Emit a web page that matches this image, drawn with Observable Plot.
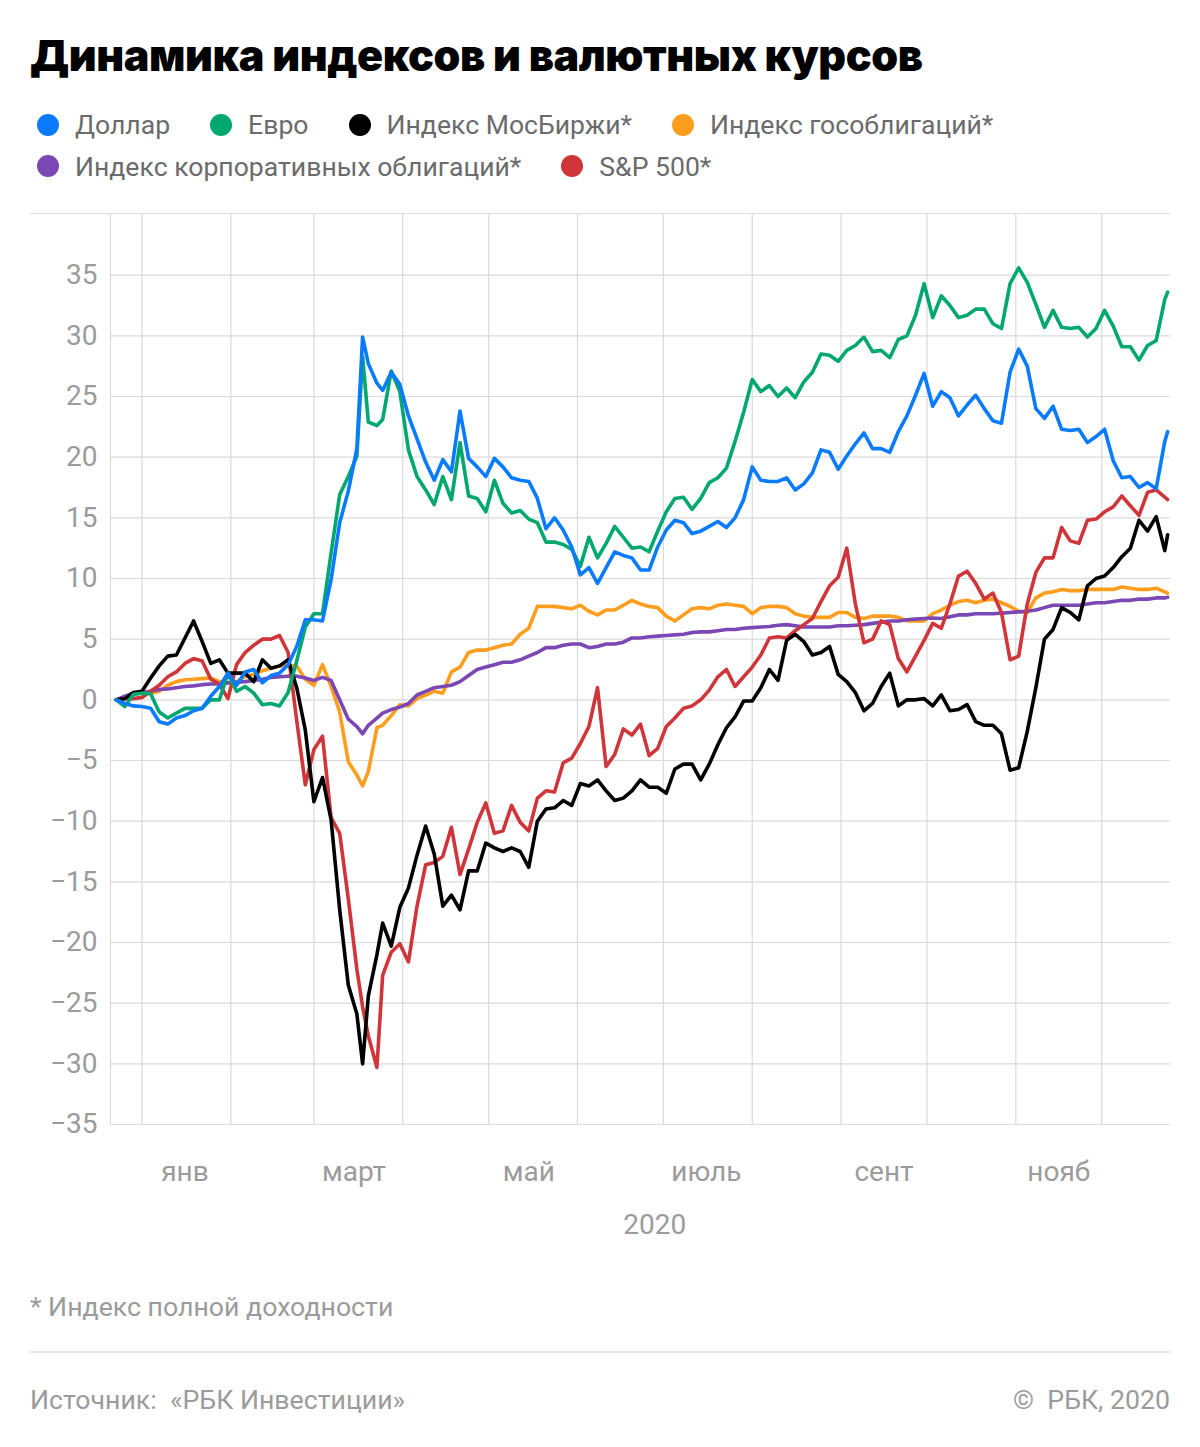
<!DOCTYPE html>
<html lang="ru">
<head>
<meta charset="utf-8">
<script src="https://cdn.jsdelivr.net/npm/d3@7"></script>
<script src="https://cdn.jsdelivr.net/npm/@observablehq/plot@0.6"></script>
<style>
  html, body { margin: 0; padding: 0; background: #fff; }
  body { width: 1200px; height: 1447px; position: relative; font-family: Roboto, "Noto Sans", sans-serif; overflow: hidden; }
  #title { position: absolute; left: 30px; top: 34px; font-family: Inter, Roboto, sans-serif; font-weight: 900; font-size: 43px; line-height: 43px; color: #000; letter-spacing: -0.4px; white-space: nowrap; }
  #legend { position: absolute; left: 37px; top: 104px; width: 1133px; display: flex; flex-wrap: wrap; font-size: 26.6px; line-height: 41.5px; color: #6b6b6b; }
  .item { display: inline-flex; align-items: center; margin-right: 40px; white-space: nowrap; }
  .dot { width: 22px; height: 22px; border-radius: 50%; margin-right: 16px; flex: none; }
  .sep { position: absolute; left: 30px; width: 1140px; background: #dedede; }
  #chart { position: absolute; left: 30px; top: 214px; }
  #note { position: absolute; left: 30px; top: 1292px; font-size: 26.7px; line-height: 30px; color: #9b9b9b; }
  #source { position: absolute; left: 30px; top: 1385px; font-size: 26.7px; line-height: 30px; color: #9b9b9b; white-space: pre; }
  #copy { position: absolute; right: 30px; top: 1385px; font-size: 26.7px; line-height: 30px; color: #9b9b9b; white-space: pre; }
</style>
</head>
<body>
<div id="title">Динамика индексов и валютных курсов</div>
<div id="legend"></div>
<div class="sep" style="top:213px;height:1px;"></div>
<div id="chart"></div>
<div id="note">* Индекс полной доходности</div>
<div class="sep" style="top:1351px;height:2px;background:#e6e6e6;"></div>
<div id="source">Источник:  «РБК Инвестиции»</div>
<div id="copy">©  РБК, 2020</div>
<script>
const dates = [
"2019-12-23","2019-12-26","2019-12-29",
"2020-01-01","2020-01-04","2020-01-07","2020-01-10","2020-01-13","2020-01-16","2020-01-19","2020-01-22","2020-01-25","2020-01-28","2020-01-31",
"2020-02-03","2020-02-06","2020-02-09","2020-02-12","2020-02-15","2020-02-18","2020-02-21","2020-02-24","2020-02-27",
"2020-03-01","2020-03-04","2020-03-07","2020-03-10","2020-03-13","2020-03-16","2020-03-18","2020-03-20","2020-03-23","2020-03-25","2020-03-28","2020-03-31",
"2020-04-03","2020-04-06","2020-04-09","2020-04-12","2020-04-15","2020-04-18","2020-04-21","2020-04-24","2020-04-27","2020-04-30",
"2020-05-03","2020-05-06","2020-05-09","2020-05-12","2020-05-15","2020-05-18","2020-05-21","2020-05-24","2020-05-27","2020-05-30",
"2020-06-02","2020-06-05","2020-06-08","2020-06-11","2020-06-14","2020-06-17","2020-06-20","2020-06-23","2020-06-26","2020-06-29",
"2020-07-02","2020-07-05","2020-07-08","2020-07-11","2020-07-14","2020-07-17","2020-07-20","2020-07-23","2020-07-26","2020-07-29",
"2020-08-01","2020-08-04","2020-08-07","2020-08-10","2020-08-13","2020-08-16","2020-08-19","2020-08-22","2020-08-25","2020-08-28","2020-08-31",
"2020-09-03","2020-09-06","2020-09-09","2020-09-12","2020-09-15","2020-09-18","2020-09-21","2020-09-24","2020-09-27","2020-09-30",
"2020-10-03","2020-10-06","2020-10-09","2020-10-12","2020-10-15","2020-10-18","2020-10-21","2020-10-24","2020-10-27","2020-10-30",
"2020-11-02","2020-11-05","2020-11-08","2020-11-11","2020-11-14","2020-11-17","2020-11-20","2020-11-23","2020-11-26","2020-11-29",
"2020-12-02","2020-12-05","2020-12-08","2020-12-11","2020-12-14","2020-12-17","2020-12-20","2020-12-23","2020-12-24"
];

const dollar = [
0, -0.3, -0.5,
-0.55, -0.7, -1.8, -2.0, -1.5, -1.3, -0.9, -0.7, 0.3, 1.1, 2.2,
1.2, 2.3, 2.5, 1.4, 2.0, 2.2, 2.9, 4.4, 6.6,
6.6, 6.5, 9.9, 14.6, 17.2, 20.7, 29.9, 27.7, 26.1, 25.5, 27.0, 26.0,
23.4, 21.5, 19.6, 18.1, 19.8, 18.8, 23.8, 19.9, 19.2, 18.4,
19.9, 19.2, 18.3, 18.1, 18.0, 16.6, 14.1, 15.0, 14.0, 12.6,
10.3, 10.9, 9.6, 10.9, 12.2, 11.9, 11.7, 10.7, 10.7, 12.6,
14.0, 14.8, 14.6, 13.7, 13.9, 14.3, 14.7, 14.2, 15.0, 16.5,
19.2, 18.1, 18.0, 18.0, 18.3, 17.3, 17.8, 18.7, 20.6, 20.4, 19.0,
20.1, 21.1, 22.0, 20.7, 20.7, 20.4, 22.1, 23.4, 25.1, 26.9,
24.2, 25.4, 24.9, 23.4, 24.3, 25.1, 24.0, 23.0, 22.8, 27.0,
28.9, 27.5, 24.0, 23.2, 24.2, 22.3, 22.2, 22.3, 21.2, 21.7,
22.3, 19.7, 18.3, 18.4, 17.5, 17.9, 17.4, 21.3, 22.1
];

const euro = [
0, -0.55, 0.45,
0.55, 0.5, -1.0, -1.5, -1.1, -0.7, -0.7, -0.7, 0, 0, 2.2,
0.7, 1.1, 0.55, -0.4, -0.3, -0.5, 0.6, 3.2, 6.0,
7.1, 7.1, 12.1, 16.9, 18.4, 20.1, 28.3, 22.9, 22.6, 23.1, 27.1, 25.4,
20.6, 18.4, 17.3, 16.1, 18.4, 16.5, 21.2, 16.8, 16.6, 15.5,
18.1, 16.2, 15.4, 15.6, 14.9, 14.6, 13.0, 13.0, 12.8, 12.4,
11.0, 13.4, 11.7, 12.9, 14.3, 13.4, 12.5, 12.6, 12.2, 13.9,
15.5, 16.6, 16.7, 15.7, 16.6, 17.9, 18.3, 19.1, 21.3, 23.7,
26.4, 25.4, 25.9, 25.0, 25.7, 24.9, 26.2, 27.0, 28.5, 28.4, 27.9,
28.8, 29.2, 29.9, 28.7, 28.8, 28.2, 29.7, 30.0, 31.7, 34.3,
31.5, 33.3, 32.5, 31.5, 31.7, 32.2, 32.2, 31.0, 30.6, 34.3,
35.6, 34.4, 32.6, 30.7, 32.1, 30.7, 30.6, 30.7, 29.9, 30.6,
32.1, 30.8, 29.1, 29.1, 28.0, 29.2, 29.6, 33.0, 33.6
];

const moex = [
0, 0.1, 0.6,
0.7, 1.8, 2.8, 3.6, 3.7, 5.1, 6.5, 4.8, 3.0, 3.3, 2.2,
2.2, 2.2, 1.5, 3.3, 2.6, 2.8, 3.3, 1.0, -2.5,
-8.4, -6.4, -9.9, -17.3, -23.5, -25.9, -30.0, -24.4, -21.0, -18.4, -20.3, -17.1,
-15.5, -12.8, -10.4, -12.7, -17.0, -16.1, -17.3, -14.1, -14.1, -11.8,
-12.2, -12.5, -12.2, -12.5, -13.8, -10.0, -9.0, -8.9, -8.3, -8.7,
-6.9, -7.1, -6.6, -7.5, -8.3, -8.1, -7.5, -6.6, -7.2, -7.2,
-7.7, -5.7, -5.3, -5.3, -6.6, -5.3, -3.7, -2.3, -1.4, -0.1,
-0.1, 1.0, 2.5, 1.6, 4.9, 5.4, 4.8, 3.7, 3.9, 4.4, 2.1,
1.5, 0.6, -0.9, -0.3, 1.1, 2.2, -0.5, 0, 0, 0.1,
-0.5, 0.4, -0.9, -0.8, -0.4, -1.8, -2.1, -2.1, -2.8, -5.8,
-5.6, -2.6, 1.0, 5.0, 5.8, 7.6, 7.2, 6.6, 9.4, 10.0,
10.2, 10.9, 11.8, 12.5, 14.8, 13.9, 15.1, 12.3, 13.6
];

const govBonds = [
0, 0.2, 0.55,
0.6, 0.55, 0.7, 1.2, 1.5, 1.65, 1.7, 1.75, 1.8, 1.5, 1.4,
1.5, 1.9, 2.1, 2.4, 2.6, 2.8, 2.8, 2.8, 1.7,
1.2, 2.9, 1.1, -1.0, -5.1, -6.2, -7.1, -5.9, -2.3, -2.1, -1.3, -0.4,
-0.5, 0.1, 0.4, 0.7, 0.55, 2.3, 2.7, 3.9, 4.1, 4.1,
4.3, 4.5, 4.6, 5.4, 5.9, 7.7, 7.7, 7.7, 7.6, 7.5,
7.8, 7.3, 7.0, 7.4, 7.4, 7.8, 8.2, 7.9, 7.7, 7.6,
6.9, 6.5, 7.0, 7.5, 7.6, 7.5, 7.8, 7.9, 7.8, 7.7,
7.1, 7.6, 7.7, 7.7, 7.6, 7.1, 6.9, 6.8, 6.8, 6.8, 7.2,
7.2, 6.8, 6.7, 6.9, 6.9, 6.9, 6.8, 6.5, 6.5, 6.5,
7.1, 7.4, 7.8, 8.1, 8.2, 8.0, 8.2, 8.3, 8.0, 7.7,
7.3, 7.2, 8.4, 8.8, 8.9, 9.1, 9.0, 9.0, 9.1, 9.1,
9.1, 9.1, 9.3, 9.2, 9.1, 9.1, 9.2, 8.9, 8.8
];

const corpBonds = [
0, 0.3, 0.55,
0.6, 0.7, 0.85, 0.9, 1.0, 1.1, 1.15, 1.25, 1.3, 1.3, 1.4,
1.45, 1.5, 1.6, 1.7, 1.85, 1.9, 1.95, 1.95, 1.8,
1.6, 1.85, 1.6, 0, -1.6, -2.2, -2.8, -2.1, -1.5, -1.1, -0.8, -0.6,
-0.3, 0.4, 0.7, 1.0, 1.1, 1.2, 1.5, 2.0, 2.5, 2.7,
2.9, 3.1, 3.1, 3.3, 3.6, 3.9, 4.3, 4.3, 4.5, 4.6,
4.6, 4.3, 4.4, 4.6, 4.6, 4.75, 5.1, 5.1, 5.2, 5.25,
5.3, 5.35, 5.4, 5.55, 5.6, 5.6, 5.7, 5.8, 5.8, 5.9,
5.95, 6.0, 6.05, 6.15, 6.2, 6.1, 6.0, 6.0, 6.0, 6.0, 6.1,
6.1, 6.15, 6.2, 6.3, 6.4, 6.5, 6.5, 6.6, 6.65, 6.7,
6.75, 6.7, 6.85, 7.0, 7.0, 7.1, 7.1, 7.1, 7.15, 7.2,
7.25, 7.3, 7.4, 7.6, 7.8, 7.8, 7.8, 7.8, 7.9, 8.0,
8.0, 8.1, 8.2, 8.2, 8.3, 8.3, 8.4, 8.4, 8.45
];

const sp500 = [
0, 0.1, 0.1,
0.2, 0.7, 1.2, 1.9, 2.3, 3.0, 3.4, 3.2, 1.7, 1.3, 0.1,
2.9, 3.9, 4.5, 5.0, 5.0, 5.3, 3.9, -1.7, -7.0,
-4.1, -3.0, -9.7, -11.0, -16.4, -22.2, -25.3, -27.7, -30.3, -22.7, -20.8, -20.1,
-21.6, -17.0, -13.6, -13.4, -12.9, -10.5, -14.4, -12.3, -10.1, -8.5,
-11.0, -10.8, -8.7, -10.1, -10.8, -8.1, -7.5, -7.6, -5.2, -4.8,
-3.6, -2.2, 1.0, -5.5, -4.5, -2.4, -2.9, -2.0, -4.6, -4.0,
-2.2, -1.5, -0.7, -0.5, 0, 0.8, 1.9, 2.5, 1.1, 1.9,
2.7, 3.7, 5.1, 5.2, 5.1, 5.7, 6.2, 6.7, 8.1, 9.4, 10.1,
12.5, 7.9, 4.7, 5.0, 6.5, 6.2, 3.4, 2.3, 3.6, 4.9,
6.3, 5.9, 7.9, 10.2, 10.6, 9.6, 8.3, 8.8, 7.2, 3.3,
3.6, 7.9, 10.5, 11.7, 11.7, 14.2, 13.1, 12.9, 14.8, 14.9,
15.5, 15.9, 16.8, 16.0, 15.2, 17.1, 17.3, 16.7, 16.5
];

const seriesNames = ["Доллар", "Евро", "Индекс МосБиржи*", "Индекс гособлигаций*", "Индекс корпоративных облигаций*", "S&P 500*"];
const seriesColors = ["#0a7bff", "#00a870", "#000000", "#ff9d1e", "#7a47b5", "#d0353a"];
const seriesValues = [dollar, euro, moex, govBonds, corpBonds, sp500];
const drawOrder = [3, 4, 5, 2, 1, 0];

const yTicks = [-35, -30, -25, -20, -15, -10, -5, 0, 5, 10, 15, 20, 25, 30, 35];
const yDomain = [-35, 40];
const xDomain = ["2019-12-21", "2020-12-25"];
const gridMonths = ["2020-01-01","2020-02-01","2020-03-01","2020-04-01","2020-05-01","2020-06-01","2020-07-01","2020-08-01","2020-09-01","2020-10-01","2020-11-01","2020-12-01"];
const monthLabels = ["янв", "март", "май", "июль", "сент", "нояб"];
const monthLabelDates = ["2020-01-16", "2020-03-15", "2020-05-15", "2020-07-16", "2020-09-16", "2020-11-16"];
const yearLabel = "2020";
const yearLabelDate = "2020-06-28";

// legend
const legend = document.getElementById("legend");
seriesNames.forEach((name, i) => {
  const item = document.createElement("span");
  item.className = "item";
  const dot = document.createElement("span");
  dot.className = "dot";
  dot.style.background = seriesColors[i];
  item.appendChild(dot);
  item.appendChild(document.createTextNode(name));
  legend.appendChild(item);
});

// tidy rows (in drawing order)
const rows = [];
for (const s of drawOrder) {
  seriesValues[s].forEach((v, i) => {
    if (v != null && dates[i]) rows.push({date: new Date(dates[i]), value: v, name: seriesNames[s]});
  });
}

const labelMap = new Map(monthLabelDates.map((d, i) => [+new Date(d), monthLabels[i]]));
const fmtY = d => d < 0 ? "\u2212" + Math.abs(d) : String(d);

const chart = Plot.plot({
  width: 1140,
  height: 1040,
  marginLeft: 80,
  marginRight: 0,
  marginTop: 0,
  marginBottom: 130,
  style: {fontFamily: "Roboto, 'Noto Sans', sans-serif", fontSize: "28px", color: "#9b9b9b", background: "transparent", overflow: "visible"},
  x: {type: "utc", domain: xDomain.map(d => new Date(d)), ticks: monthLabelDates.map(d => new Date(d)), tickFormat: d => labelMap.get(+d) ?? "", tickSize: 0, tickPadding: 37, label: null},
  y: {domain: yDomain, ticks: yTicks, tickFormat: fmtY, tickSize: 0, tickPadding: 13, label: null},
  color: {domain: seriesNames, range: seriesColors},
  marks: [
    Plot.ruleY(yTicks, {stroke: "#dadada", strokeWidth: 1.2}),
    Plot.ruleX(gridMonths.map(d => new Date(d)), {stroke: "#dadada", strokeWidth: 1.2}),
    Plot.ruleX([new Date(xDomain[0])], {stroke: "#dadada", strokeWidth: 1.2}),
    Plot.line(rows, {x: "date", y: "value", z: "name", stroke: "name", strokeWidth: 3.6, strokeLinejoin: "round", strokeLinecap: "round"}),
    Plot.text([yearLabel], {x: () => new Date(yearLabelDate), frameAnchor: "bottom", dy: 109, fontSize: 28, fill: "#9b9b9b"})
  ]
});
document.getElementById("chart").appendChild(chart);
</script>
</body>
</html>
